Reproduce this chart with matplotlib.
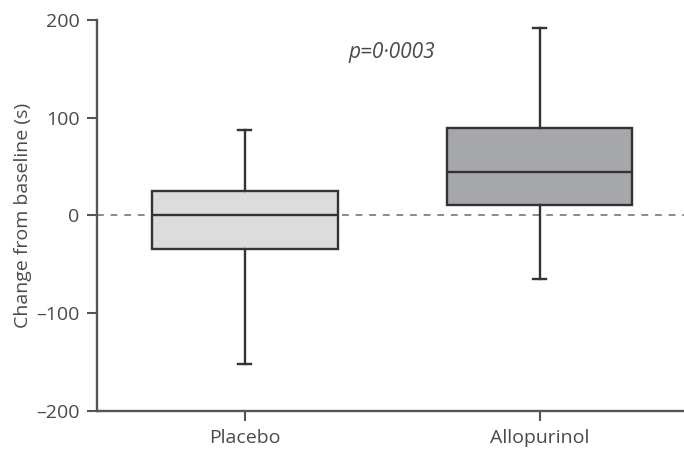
import matplotlib
matplotlib.use("Agg")
import matplotlib.pyplot as plt

plt.rcParams["font.family"] = ["Open Sans", "DejaVu Sans"]

# box statistics (seconds)
groups = ["Placebo", "Allopurinol"]
whisker_low = [-152, -65]
q1 = [-34, 11]
median = [0, 44]
q3 = [25, 89]
whisker_high = [87, 192]
fills = ["#dcdcdd", "#a6a7aa"]

y_ticks = [-200, -100, 0, 100, 200]
p_text = "p=0·0003"

text_col = "#4a4a4a"
edge_col = "#333333"

stats = []
for i, name in enumerate(groups):
    stats.append({
        "label": name,
        "whislo": whisker_low[i],
        "q1": q1[i],
        "med": median[i],
        "q3": q3[i],
        "whishi": whisker_high[i],
        "fliers": [],
    })

fig = plt.figure(figsize=(6.84, 4.5), dpi=100)
ax = fig.add_axes([0.1425, 0.0867, 0.8575, 0.8689])

ax.axhline(0, color="#8a8a8a", lw=1.4, ls=(0, (3.5, 3.5)), zorder=1)

bp = ax.bxp(stats, positions=[1, 2], widths=0.63, patch_artist=True,
            showfliers=False, zorder=2,
            boxprops=dict(edgecolor=edge_col, linewidth=1.7),
            medianprops=dict(color=edge_col, linewidth=1.7),
            whiskerprops=dict(color=edge_col, linewidth=1.7),
            capprops=dict(color=edge_col, linewidth=1.7))
for cap in bp["caps"]:
    x = cap.get_xdata()
    mid = (x[0] + x[1]) / 2
    cap.set_xdata([mid - 0.022, mid + 0.022])
for patch, c in zip(bp["boxes"], fills):
    patch.set_facecolor(c)

ax.set_xlim(0.5, 2.49)
ax.set_ylim(-200, 200)
ax.set_yticks(y_ticks)
ax.set_yticklabels([str(v).replace("-", "\u2013") for v in y_ticks])
ax.set_xticks([1, 2])
ax.set_xticklabels(groups)

for s in ["top", "right"]:
    ax.spines[s].set_visible(False)
for s in ["left", "bottom"]:
    ax.spines[s].set_color("#555555")
    ax.spines[s].set_linewidth(1.7)
ax.tick_params(axis="both", direction="out", length=7, width=1.5,
               color="#555555", labelsize=14, labelcolor=text_col, pad=6)

ax.set_ylabel("Change from baseline (s)", fontsize=14, color=text_col,
              labelpad=3)
ax.text(1.5, 167, p_text, style="italic", fontsize=15, color=text_col,
        ha="center", va="center")

fig.savefig("out.png", dpi=100)
